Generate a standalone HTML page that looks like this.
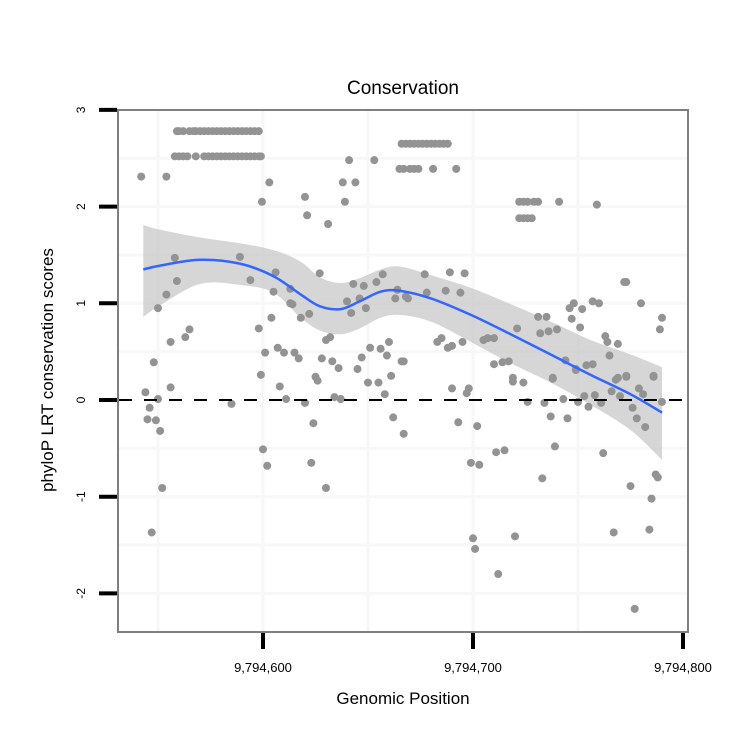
<!DOCTYPE html>
<html><head><meta charset="utf-8"><style>
body{margin:0;background:#fff;width:750px;height:750px;overflow:hidden}
svg text{font-family:"Liberation Sans",sans-serif}
</style></head><body>
<svg id="chart" width="750" height="750" xmlns="http://www.w3.org/2000/svg"></svg>
<script>
const posOffsets = [
-41,-40,-38,-35,-33,-32,-30,-28,-26,-24,-22,-20,-18,-16,-14,-12,-10,-8,-6,-4,-2,
-42,-40,-38,-36,-32,-28,-26,-24,-22,-20,-18,-16,-14,-12,-10,-8,-6,-4,-2,-1,
66,68,70,72,74,76,78,80,82,84,86,88,
65,67,70,72,74,81,92,
122,124,126,129,131,141,159,122,124,126,128,
-58,-46,3,-0.5,20,21,31,41,53,38,44,39,
-42,-41,-46,-50,-35,-37,-44,-52,-11,-6,6,5,13,13,14,4,-2,18,22,27,43,48,40,46,49,42,54,57,64,63,68,30,32,
1,7,10,15,17,-1,25,28,33,36,45,47,51,56,60,59,66,61,
-56,-54,-55,-51,-49,-50,-44,-15,8,11,20,24,26,34,37,50,55,58,62,67,0,2,23,30,-48,-53,
90,98,97,119,124,138,149,126,134,143,150,153,158,155,161,166,168,173,170,179,181,176,178,182,186,190,
93,102,137,145,139,111,115,99,103,133,162,175,187,188,185,167,184,100,101,120,112,177,
77,89,96,78,69,87,94,172,173,180,190,189,157,160,148,146,152,147,151,131,135,121,132,136,140,163,164,169,165,
85,83,88,90,95,105,107,110,67,110,114,117,144,149,154,157,119,138,169,173,186
];
const scores = [
2.78,2.78,2.78,2.78,2.78,2.78,2.78,2.78,2.78,2.78,2.78,2.78,2.78,2.78,2.78,2.78,2.78,2.78,2.78,2.78,2.78,
2.52,2.52,2.52,2.52,2.52,2.52,2.52,2.52,2.52,2.52,2.52,2.52,2.52,2.52,2.52,2.52,2.52,2.52,2.52,2.52,
2.65,2.65,2.65,2.65,2.65,2.65,2.65,2.65,2.65,2.65,2.65,2.65,
2.39,2.39,2.39,2.39,2.39,2.39,2.39,
2.05,2.05,2.05,2.05,2.05,2.05,2.02,1.88,1.88,1.88,1.88,
2.31,2.31,2.25,2.05,2.10,1.91,1.82,2.48,2.48,2.25,2.25,2.05,
1.47,1.23,1.09,0.95,0.73,0.65,0.60,0.39,1.48,1.24,1.32,1.12,1.15,1.00,0.99,0.85,0.74,0.85,0.89,1.31,1.20,1.18,1.02,1.05,0.95,0.90,1.22,1.30,1.14,1.05,1.07,0.62,0.65,
0.49,0.54,0.49,0.49,0.43,0.26,0.24,0.43,0.40,0.33,0.32,0.44,0.54,0.53,0.60,0.46,0.40,0.25,
0.08,-0.08,-0.20,-0.21,-0.32,0.01,0.13,-0.04,0.14,0.01,-0.03,-0.24,0.20,0.03,0.01,0.18,0.18,0.06,-0.18,-0.35,-0.51,-0.68,-0.65,-0.91,-0.91,-1.37,
0.12,0.12,0.07,0.19,0.18,0.22,0.31,-0.02,-0.03,0.01,-0.02,0.04,0.05,-0.07,-0.03,0.09,0.21,0.24,0.04,0.12,0.06,-0.08,-0.19,-0.28,0.24,-0.02,
-0.23,-0.27,-0.17,-0.19,-0.48,-0.54,-0.52,-0.65,-0.67,-0.81,-0.55,-0.89,-0.77,-0.80,-1.02,-1.37,-1.34,-1.43,-1.54,-1.41,-1.80,-2.16,
1.30,1.32,1.31,1.11,1.05,1.13,1.11,1.22,1.22,1.00,0.85,0.73,1.02,1.00,1.00,0.95,0.94,0.84,0.75,0.86,0.86,0.74,0.69,0.71,0.73,0.66,0.60,0.58,0.46,
0.64,0.60,0.54,0.56,0.60,0.62,0.64,0.64,0.40,0.37,0.39,0.40,0.41,0.32,0.36,0.37,0.23,0.23,0.23,0.25,0.25
];
const smoothX = [-57,-49,-30,-11,5,18,27,37,46,56,65,80,99,117,137,156,175,190];
const smoothY = [1.35,1.39,1.45,1.41,1.28,1.09,0.97,0.94,1.02,1.12,1.13,1.05,0.88,0.69,0.47,0.26,0.06,-0.13];
const smoothUpper = [1.81,1.76,1.68,1.62,1.55,1.43,1.27,1.21,1.26,1.35,1.38,1.29,1.16,1.00,0.81,0.62,0.47,0.34];
const smoothLower = [0.86,0.98,1.20,1.19,1.11,0.85,0.72,0.68,0.74,0.85,0.88,0.81,0.60,0.39,0.18,-0.05,-0.31,-0.62];
const xTicks = [9794600,9794700,9794800];
const xTickLabels = ["9,794,600","9,794,700","9,794,800"];
const yTicks = [3,2,1,0,-1,-2];
const BASE = 9794600;

const svg = document.getElementById('chart');
const NS = "http://www.w3.org/2000/svg";
function xs(off){return 263 + off*2.1;}
function ys(v){return 400 - v*96.7;}
function mk(tag, attrs){const e=document.createElementNS(NS,tag);for(const k in attrs)e.setAttribute(k,attrs[k]);svg.appendChild(e);return e;}
function spline(pts, start){
 let d=start?'M'+pts[0][0]+','+pts[0][1]:'L'+pts[0][0]+','+pts[0][1];
 for(let i=0;i<pts.length-1;i++){
  const p0=pts[Math.max(0,i-1)],p1=pts[i],p2=pts[i+1],p3=pts[Math.min(pts.length-1,i+2)];
  const c1=[p1[0]+(p2[0]-p0[0])/6,p1[1]+(p2[1]-p0[1])/6];
  const c2=[p2[0]-(p3[0]-p1[0])/6,p2[1]-(p3[1]-p1[1])/6];
  d+='C'+c1[0]+','+c1[1]+' '+c2[0]+','+c2[1]+' '+p2[0]+','+p2[1];
 }
 return d;
}

// grid
[158,263,368,473,578].forEach(x=>{const g=mk('line',{x1:x,y1:111,x2:x,y2:631,stroke:'#f7f7f7','stroke-width':3});

});
[2.5,2,1.5,1,0.5,-0.5,-1,-1.5,-2].forEach(v=>{const g=mk('line',{x1:119,y1:ys(v),x2:687,y2:ys(v),stroke:'#f7f7f7','stroke-width':3});

});

// band
const up=smoothX.map((x,i)=>[xs(x),ys(smoothUpper[i])]);
const lo=smoothX.map((x,i)=>[xs(x),ys(smoothLower[i])]).reverse();
const band=mk('path',{d:spline(up,true)+spline(lo,false)+'Z',fill:'#c8c8c8','fill-opacity':0.75});



// points
posOffsets.forEach((o,i)=>{const c=mk('circle',{cx:xs(o),cy:ys(scores[i]),r:4,fill:'#939393'});

});

// zero line
const z=mk('line',{x1:119,y1:ys(0),x2:687,y2:ys(0),stroke:'#000','stroke-width':2,'stroke-dasharray':'13,12'});



// smooth line
const sp=smoothX.map((x,i)=>[xs(x),ys(smoothY[i])]);
const sl=mk('path',{d:spline(sp,true),fill:'none',stroke:'#3366ff','stroke-width':2.5,'stroke-linejoin':'round'});



// frame
const fr=mk('rect',{x:118,y:110,width:570,height:522,fill:'none',stroke:'#7f7f7f','stroke-width':2});



// y ticks
yTicks.forEach(v=>{
 const t=mk('line',{x1:99,y1:ys(v),x2:117,y2:ys(v),stroke:'#000','stroke-width':4});
 
 
 const l=mk('text',{x:82,y:ys(v),'font-size':12,'text-anchor':'middle',transform:`rotate(-90 82 ${ys(v)})`,'dominant-baseline':'middle'});
 l.textContent=String(v);
 
 
});
// x ticks
xTicks.forEach((v,i)=>{
 const x=xs(v-BASE);
 const t=mk('line',{x1:x,y1:633,x2:x,y2:649,stroke:'#000','stroke-width':4});
 
 
 const l=mk('text',{x:x,y:672,'font-size':13,'text-anchor':'middle'});
 l.textContent=xTickLabels[i];
 
 
});
// titles
const tt=mk('text',{x:403,y:94,'font-size':19,'text-anchor':'middle'});
tt.textContent='Conservation';


const xt=mk('text',{x:403,y:704,'font-size':17,'text-anchor':'middle'});
xt.textContent='Genomic Position';


const yt=mk('text',{x:53,y:370,'font-size':17,'text-anchor':'middle',transform:'rotate(-90 53 370)'});
yt.textContent='phyloP LRT conservation scores';


</script>
</body></html>
